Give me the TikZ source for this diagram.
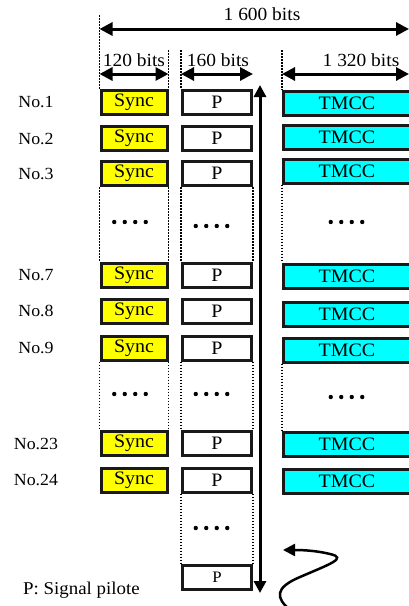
\documentclass[tikz,border=0pt]{standalone}
\usepackage{fontspec}
\setmainfont{Liberation Serif}
\usepackage{graphicx}
\usetikzlibrary{arrows.meta}
\newcommand\sx[1]{\scalebox{1.05}[1]{#1}}
\definecolor{syncyellow}{RGB}{255,255,0}
\definecolor{tmcccyan}{RGB}{0,255,255}
\begin{document}
\begin{tikzpicture}[x=1pt,y=-1pt,
  box/.style={draw=black!90, line width=3pt, minimum height=24pt, inner sep=0pt,
    font=\fontsize{19}{19}\selectfont},
  syncbox/.style={box, fill=syncyellow, minimum width=66pt},
  pbox/.style={box, fill=white, minimum width=69pt},
  tmccbox/.style={box, fill=tmcccyan, minimum width=127pt},
  rowlabel/.style={font=\fontsize{17}{17}\selectfont, inner sep=0pt},
  bitslabel/.style={font=\fontsize{18.5}{18.5}\selectfont, inner sep=0pt},
  dimarrow/.style={line width=3pt, {Triangle[length=13pt,width=13pt]}-{Triangle[length=13pt,width=13pt]}},
  guide/.style={line width=1.5pt, dash pattern=on 1.5pt off 1.5pt},
  dotmark/.style={fill=black},
]
\useasboundingbox (0,0) rectangle (409,606);
\clip (0,0) rectangle (409,606);

% rows
\foreach \n/\y/\yt in {1/102.5/103, 2/138.5/137.5, 3/173.5/171, 7/275.5/276,
                       8/311/314, 9/348/350, 23/443.5/444, 24/480/481} {
  \node[rowlabel] (n\n) at (36,\y) {\sx{No.\n}};
  \node[syncbox] (s\n) at (134,\y) {\sx{Sync}};
  \node[pbox] (p\n) at (217,\y) {\sx{P}};
  \node[tmccbox] (t\n) at (347,\yt) {\sx{TMCC}};
}
\node[pbox, font=\fontsize{16}{16}\selectfont] (plast) at (217,577.5) {\sx{P}};

% dotted gaps
\foreach \a/\b in {3/7, 9/23} {
  \draw[guide] (s\a.south west) -- (s\b.north west);
  \draw[guide] (s\a.south east) -- (s\b.north east);
  \draw[guide] (p\a.south west) -- (p\b.north west);
  \draw[guide] (p\a.south east) -- (p\b.north east);
  \draw[guide] (t\a.south west) -- (t\b.north west);
}
\draw[guide] (p24.south west) -- (plast.north west);
\draw[guide] (p24.south east) -- (plast.north east);

% ellipsis dots
\foreach \cx/\cy in {130/222, 211.5/226, 346.5/222, 130/394, 211.5/394, 346.5/397, 211.5/528} {
  \foreach \k in {-1.5,-0.5,0.5,1.5}
    \fill[dotmark] (\cx+\k*10.5,\cy) circle (2.2);
}

% top dimensions
\coordinate (g0) at (s1.north west |- 0,15);
\coordinate (g1) at (s1.north east |- 0,50);
\coordinate (g2) at (p1.north west |- 0,50);
\coordinate (g3) at (t1.north west |- 0,50);
\draw[guide] (g0) -- (s1.north west);
\draw[guide] (g1) -- (s1.north east);
\draw[guide] (g2) -- (p1.north west);
\draw[guide] (g3) -- (t1.north west);

\coordinate (a0l) at (s1.north west |- 0,29);
\coordinate (a0r) at (409,29);
\coordinate (a1l) at (s1.north west |- 0,74);
\coordinate (a1r) at (s1.north east |- 0,74);
\coordinate (a2l) at (p1.north west |- 0,74);
\coordinate (a2r) at (p1.north east |- 0,74);
\coordinate (a3l) at (t1.north west |- 0,74);
\coordinate (a3r) at (409,74);
\draw[dimarrow] (a0l) -- (a0r);
\draw[dimarrow] (a1l) -- (a1r);
\draw[dimarrow] (a2l) -- (a2r);
\draw[dimarrow] (a3l) -- (a3r);

\node[bitslabel] (b0) at (262,14) {\sx{1 600 bits}};
\node[bitslabel] (b1) at (134,60) {\sx{120 bits}};
\node[bitslabel] (b2) at (218,60) {\sx{160 bits}};
\node[bitslabel] (b3) at (361,60) {\sx{1 320 bits}};

% vertical time arrow
\coordinate (vt) at (260,85);
\coordinate (vb) at (260,593);
\draw[line width=3pt, {Triangle[length=12pt,width=12pt]}-{Triangle[length=12pt,width=12pt]}] (vt) -- (vb);

% curly arrow
\coordinate (c0) at (290,610);
\coordinate (c3) at (300,577);
\coordinate (c6) at (330,554);
\coordinate (c9) at (283,550);
\draw[line width=2.5pt, -{Triangle[length=12pt,width=12pt]}]
  (c0) .. controls (276,598) and (274,588) .. (c3)
       .. controls (330,564) and (348,558) .. (c6)
       .. controls (318,551) and (305,550) .. (c9);

% legend
\node[font=\fontsize{18}{18}\selectfont, anchor=west, inner sep=0pt] (legend) at (23,590) {\sx{P: Signal pilote}};
\end{tikzpicture}
\end{document}
